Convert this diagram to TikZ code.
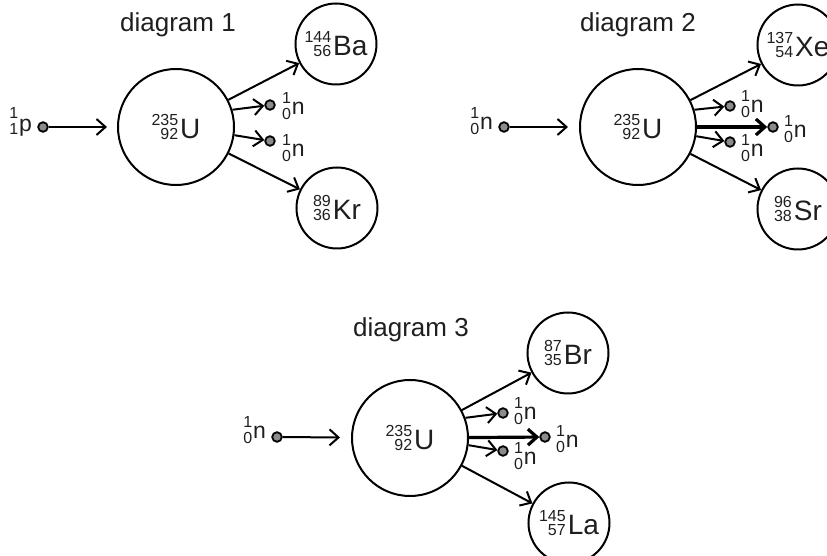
\documentclass[tikz,border=0pt]{standalone}
\usepackage{fontspec}
\setmainfont{Liberation Sans}
\usetikzlibrary{arrows.meta,positioning}

% nucleus label: mass and charge numbers stacked in front of the symbol
\newcommand{\nuc}[3]{\raisebox{-0.5pt}{\vbox{\fontsize{8}{6.9}\selectfont\halign{\hfil##\cr#1\cr#2\cr}}}\kern1pt{\fontsize{14}{16}\selectfont#3}}
% small particle label (n, p)
\newcommand{\ptcl}[4][-2.5pt]{\raisebox{#1}{\vbox{\fontsize{8}{8.2}\selectfont\halign{\hfil##\cr#2\cr#3\cr}}}\kern0.4pt{\fontsize{11.5}{13}\selectfont#4}}

\tikzset{
  nucleus/.style={circle,draw,line width=1pt,minimum size=58pt,inner sep=0pt},
  fragment/.style={circle,draw,line width=1pt,minimum size=40.5pt,inner sep=0pt},
  particle/.style={circle,draw,line width=0.9pt,fill=black!45,minimum size=4.8pt,inner sep=0pt},
  plabel/.style={inner sep=0pt,font=\fontsize{11.5}{13}\selectfont},
  title/.style={font=\fontsize{13}{15}\selectfont,anchor=base},
  react/.style={-{Straight Barb[length=4.5pt,width=8pt]},line width=1pt},
}

\begin{document}
\begin{tikzpicture}[x=0.5pt,y=-0.5pt,text=black!88]
\useasboundingbox (0,0) rectangle (827,556);

% diagram 1
\node[title] (t1) at (178,32) {diagram 1};
\node[nucleus] (U1) at (176,127) {\nuc{235}{92}{U}};
\node[fragment] (Ba) at (336,44) {\nuc{144}{56}{Ba}};
\node[fragment] (Kr) at (337,208) {\nuc{89}{36}{Kr}};
\node[particle] (p1) at (43,127) {};
\node[plabel,left=2.5pt of p1,anchor=base east,yshift=-2.5pt] (p1l) {\ptcl[-1.5pt]{1}{1}{p}};
\node[particle] (n1a) at (270,105) {};
\node[particle] (n1b) at (270,141) {};
\node[plabel,right=3pt of n1a,anchor=base west,yshift=-5pt] (n1al) {\ptcl{1}{0}{n}};
\node[plabel,right=3pt of n1b,anchor=base west,yshift=-8pt] (n1bl) {\ptcl{1}{0}{n}};
\draw[react,shorten >=5pt] (p1) -- (U1);
\draw[react] (U1) -- (Ba);
\draw[react] (U1.17) -- (n1a);
\draw[react] (U1.-8) -- (n1b);
\draw[react] (U1) -- (Kr);

% diagram 2
\node[title] (t2) at (638,32) {diagram 2};
\node[nucleus] (U2) at (638,127) {\nuc{235}{92}{U}};
\node[fragment] (Xe) at (798,45) {\nuc{137}{54}{Xe}};
\node[fragment] (Sr) at (798,209) {\nuc{96}{38}{Sr}};
\node[particle] (n2) at (504,127) {};
\node[plabel,left=2.5pt of n2,anchor=base east,yshift=-1.5pt] (n2l) {\ptcl{1}{0}{n}};
\node[particle] (n2a) at (730,106) {};
\node[particle] (n2b) at (773,127) {};
\node[particle] (n2c) at (730,142) {};
\node[plabel,right=2.5pt of n2a,anchor=base west,yshift=-3.5pt] (n2al) {\ptcl{1}{0}{n}};
\node[plabel,right=2.5pt of n2b,anchor=base west,yshift=-5.5pt] (n2bl) {\ptcl{1}{0}{n}};
\node[plabel,right=2.5pt of n2c,anchor=base west,yshift=-7.5pt] (n2cl) {\ptcl{1}{0}{n}};
\draw[react,shorten >=5.5pt] (n2) -- (U2);
\draw[react] (U2) -- (Xe);
\draw[react] (U2.17) -- (n2a);
\draw[react,line width=1.6pt] (U2) -- (n2b);
\draw[react] (U2.-9) -- (n2c);
\draw[react] (U2) -- (Sr);

% diagram 3
\node[title] (t3) at (411,337) {diagram 3};
\node[nucleus] (U3) at (410,438) {\nuc{235}{92}{U}};
\node[fragment] (Br) at (568,353) {\nuc{87}{35}{Br}};
\node[fragment] (La) at (569,523) {\nuc{145}{57}{La}};
\node[particle] (n3) at (277,437) {};
\node[plabel,left=2.5pt of n3,anchor=base east,yshift=-1pt] (n3l) {\ptcl{1}{0}{n}};
\node[particle] (n3a) at (503,413) {};
\node[particle] (n3b) at (545,437) {};
\node[particle] (n3c) at (503,451) {};
\node[plabel,right=2.5pt of n3a,anchor=base west,yshift=-3.5pt] (n3al) {\ptcl{1}{0}{n}};
\node[plabel,right=2.5pt of n3b,anchor=base west,yshift=-5.5pt] (n3bl) {\ptcl{1}{0}{n}};
\node[plabel,right=2.5pt of n3c,anchor=base west,yshift=-7pt] (n3cl) {\ptcl{1}{0}{n}};
\draw[react,shorten >=5.5pt] (n3) -- (U3);
\draw[react] (U3) -- (Br);
\draw[react] (U3.20) -- (n3a);
\draw[react,line width=1.6pt] (U3) -- (n3b);
\draw[react] (U3.-7) -- (n3c);
\draw[react] (U3) -- (La);
\end{tikzpicture}
\end{document}
